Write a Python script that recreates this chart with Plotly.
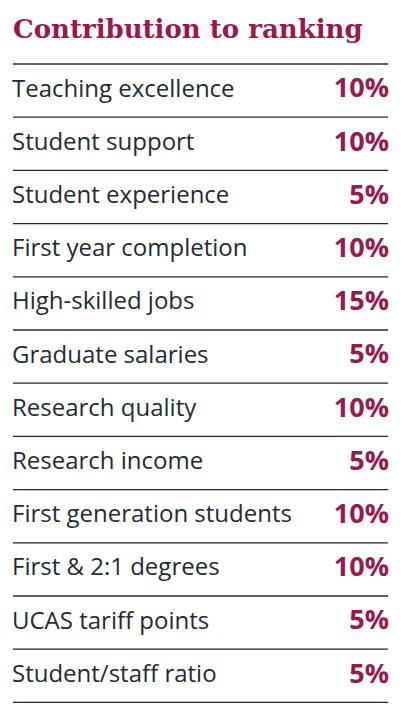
import plotly.graph_objects as go

factors = ["Teaching excellence", "Student support", "Student experience",
           "First year completion", "High-skilled jobs", "Graduate salaries",
           "Research quality", "Research income", "First generation students",
           "First & 2:1 degrees", "UCAS tariff points", "Student/staff ratio"]
weights = [10, 10, 5, 10, 15, 5, 10, 5, 10, 10, 5, 5]

WINE = "#98194f"
INK = "#222b33"
rows = list(range(len(factors)))

fig = go.Figure()
fig.add_trace(go.Scatter(
    x=[12] * len(factors), y=rows, mode="text", text=factors,
    textposition="middle right",
    textfont=dict(family="Open Sans", size=24, color=INK),
    hoverinfo="skip", showlegend=False))
fig.add_trace(go.Scatter(
    x=[389] * len(weights), y=rows, mode="text",
    text=[f"<b>{w}%</b>" for w in weights],
    textposition="middle left",
    textfont=dict(family="Open Sans", size=27, color=WINE),
    hoverinfo="skip", showlegend=False))

for i in range(len(factors) + 1):
    fig.add_shape(type="line", x0=13, x1=388, y0=i - 0.5, y1=i - 0.5,
                  line=dict(color=INK, width=1.3))
fig.add_shape(type="line", x0=402, x1=402, y0=-1.6, y1=11.9,
              line=dict(color="#333", width=2))

fig.add_annotation(x=11, y=-1.16, text="<b>Contribution to ranking</b>", showarrow=False,
                   xanchor="left", yanchor="middle",
                   font=dict(family="DejaVu Serif", size=26, color=WINE))

# ranges shifted so figure coordinates line up with the page offset
fig.update_layout(
    width=405, height=716, margin=dict(l=0, r=0, t=0, b=0),
    paper_bgcolor="white", plot_bgcolor="white",
    xaxis=dict(range=[8, 413], visible=False, fixedrange=True),
    yaxis=dict(range=[11.906, -1.553], visible=False, fixedrange=True),
)
fig.write_html("out.html")
